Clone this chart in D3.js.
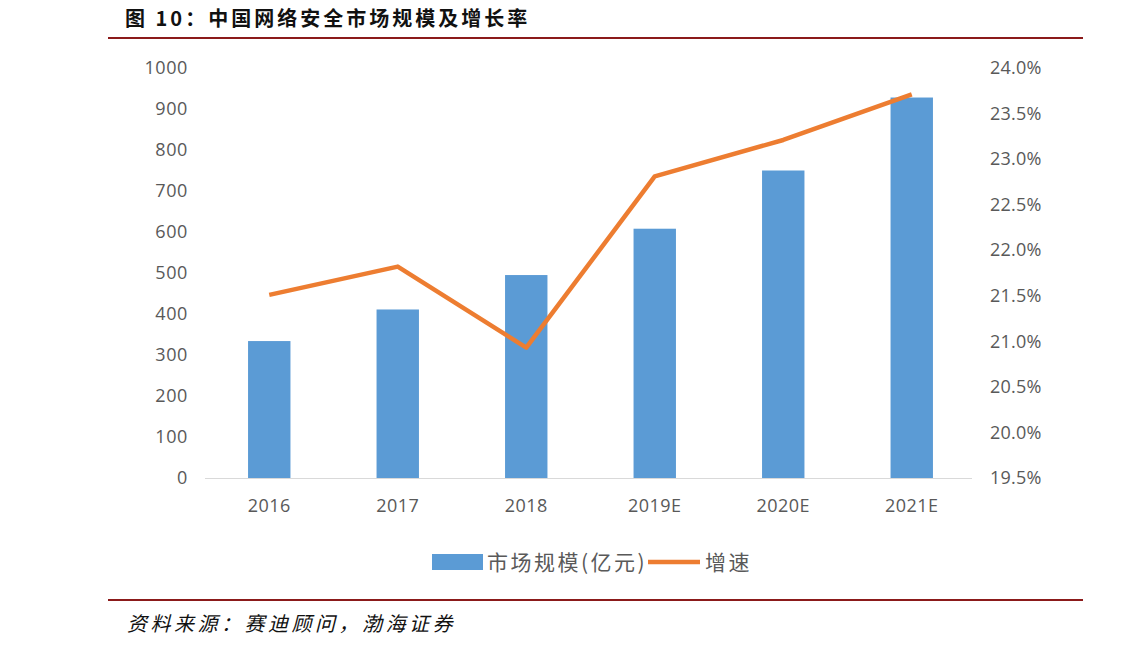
<!DOCTYPE html>
<html><head><meta charset="utf-8">
<script src="https://cdn.jsdelivr.net/npm/d3@7"></script>
<style>
html,body{margin:0;padding:0;background:#fff;}
svg{display:block;}
</style></head>
<body>
<svg id="c" width="1141" height="652"></svg>
<script>
const categories = ["2016","2017","2018","2019E","2020E","2021E"];
const marketSize = [334, 411, 495, 608, 750, 928];
const growthRate = [21.51, 21.82, 20.93, 22.81, 23.21, 23.71];
const leftTicks = [0,100,200,300,400,500,600,700,800,900,1000];
const rightTicks = [19.5,20.0,20.5,21.0,21.5,22.0,22.5,23.0,23.5,24.0];
const titleText = "图 10：中国网络安全市场规模及增长率";
const sourceText = "资料来源：赛迪顾问，渤海证券";
const legendLabels = ["市场规模(亿元)", "增速"];

const svg = d3.select("#c");
const plotL = 205, plotR = 976, plotT = 68, plotB = 478;
const barColor = "#5B9BD5", lineColor = "#ED7D31", textColor = "#595959", redLine = "#8B1A1A";
const tickFont = "'Open Sans','Liberation Sans',sans-serif";
const cjkFont = "'Noto Sans CJK SC',sans-serif";

// title
svg.append("text").attr("x",125).attr("y",26).attr("font-family",cjkFont)
  .attr("font-weight","bold").attr("font-size",20).attr("letter-spacing",3)
  .attr("fill","#111").text(titleText);
svg.append("line").attr("x1",108).attr("x2",1083).attr("y1",38).attr("y2",38)
  .attr("stroke",redLine).attr("stroke-width",2.2);

// scales
const x = d3.scaleBand().domain(categories).range([plotL, plotR]).paddingInner(0.67).paddingOuter(0.335);
const yL = d3.scaleLinear().domain([0,1000]).range([plotB, plotT]);
const yR = d3.scaleLinear().domain([19.5,24.0]).range([plotB, plotT]);

// bars
svg.append("g").selectAll("rect").data(categories).join("rect")
  .attr("x", d => x(d)).attr("width", x.bandwidth())
  .attr("y", (d,i) => yL(marketSize[i])).attr("height", (d,i) => plotB - yL(marketSize[i]))
  .attr("fill", barColor);

// baseline
svg.append("line").attr("x1",plotL).attr("x2",plotR-4).attr("y1",plotB+0.5).attr("y2",plotB+0.5)
  .attr("stroke","#d9d9d9").attr("stroke-width",1);

// left axis
const axL = svg.append("g").attr("transform",`translate(${188},0)`)
  .call(d3.axisLeft(yL).tickValues(leftTicks).tickSize(0).tickPadding(0).tickFormat(d3.format("d")));
axL.select(".domain").remove();
axL.selectAll("text").attr("font-family",tickFont).attr("font-size",18).attr("fill",textColor).attr("letter-spacing",0.6);

// right axis
const axR = svg.append("g").attr("transform",`translate(${990},0)`)
  .call(d3.axisRight(yR).tickValues(rightTicks).tickSize(0).tickPadding(0).tickFormat(d => d3.format(".1f")(d) + "%"));
axR.select(".domain").remove();
axR.selectAll("text").attr("font-family",tickFont).attr("font-size",18).attr("fill",textColor).attr("letter-spacing",0.2);

// x axis
const axX = svg.append("g").attr("transform",`translate(0,${plotB})`)
  .call(d3.axisBottom(x).tickSize(0).tickPadding(21));
axX.select(".domain").remove();
axX.selectAll("text").attr("font-family",tickFont).attr("font-size",18).attr("fill",textColor).attr("letter-spacing",0.5);

// line
const line = d3.line().x((d,i) => x(categories[i]) + x.bandwidth()/2).y(d => yR(d));
svg.append("path").datum(growthRate).attr("d", line).attr("fill","none")
  .attr("stroke",lineColor).attr("stroke-width",4.5).attr("stroke-linejoin","round");

// legend
const lg = svg.append("g");
lg.append("rect").attr("x",432).attr("y",554).attr("width",51).attr("height",16).attr("fill",barColor);
lg.append("text").attr("x",487).attr("y",570).attr("font-family",cjkFont).attr("font-size",21)
  .attr("letter-spacing",2.5).attr("fill",textColor).text(legendLabels[0]);
lg.append("line").attr("x1",648).attr("x2",700).attr("y1",562).attr("y2",562)
  .attr("stroke",lineColor).attr("stroke-width",4.5);
lg.append("text").attr("x",705).attr("y",570).attr("font-family",cjkFont).attr("font-size",21)
  .attr("letter-spacing",2.5).attr("fill",textColor).text(legendLabels[1]);

// footer
svg.append("line").attr("x1",108).attr("x2",1083).attr("y1",600).attr("y2",600)
  .attr("stroke",redLine).attr("stroke-width",2.2);
svg.append("text").attr("x",127).attr("y",631).attr("font-family",cjkFont)
  .attr("font-style","italic").attr("font-size",20).attr("letter-spacing",3.5)
  .attr("fill","#111").text(sourceText);
</script>
</body></html>
